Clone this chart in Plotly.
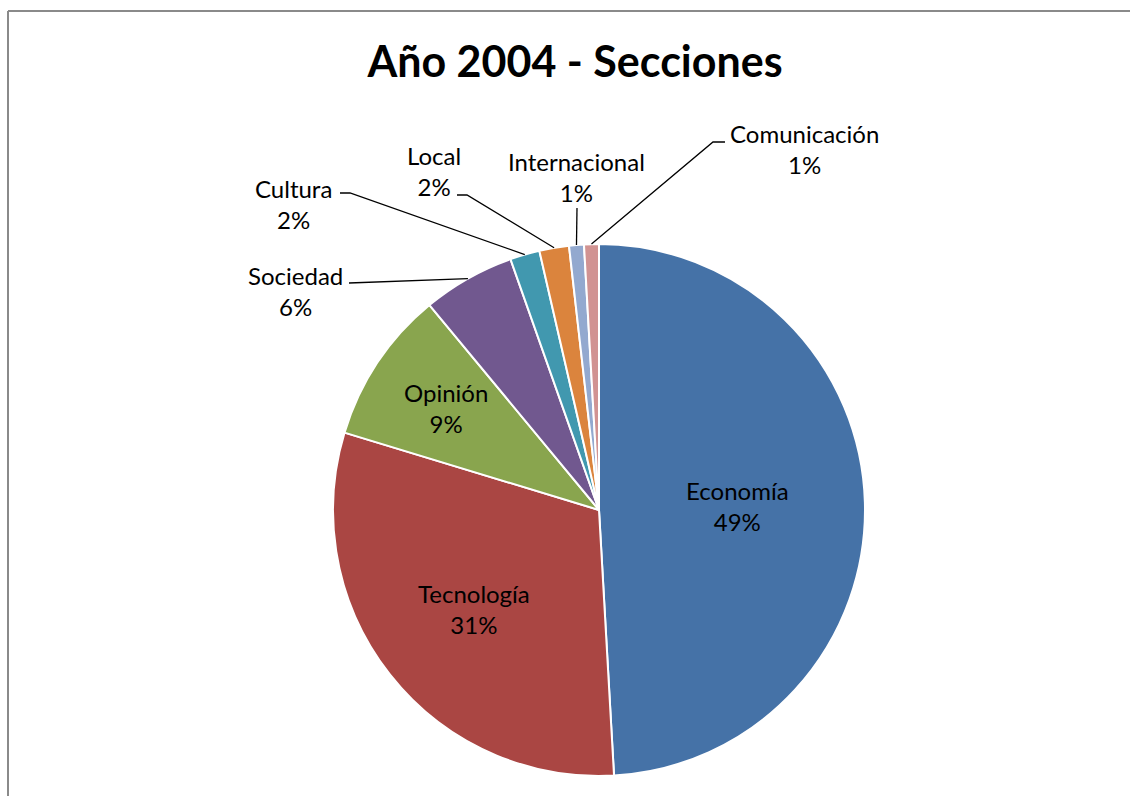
import math
import plotly.graph_objects as go

# Section shares for 2004 (percent of items)
sections = ["Economía", "Tecnología", "Opinión", "Sociedad",
            "Cultura", "Local", "Internacional", "Comunicación"]
shares = [49.1, 30.6, 9.3, 5.6, 1.8, 1.8, 0.9, 0.9]
colors = ["#4572A7", "#AA4643", "#89A54E", "#71588F",
          "#4198AF", "#DB843D", "#93A9CF", "#D19392"]

W, H = 1130, 796
CX, CY, R = 599, 510, 266          # pie centre and radius in pixels
FONT = "Lato, 'Open Sans', sans-serif"
LABEL_SIZE = 24


def px(x):
    return x / W


def py(y):
    return 1 - y / H


total = sum(shares)
pct = [round(v / total * 100) for v in shares]

# mid angle (clockwise from 12 o'clock) for each slice
mid_angles = []
acc = 0.0
for v in shares:
    a0 = acc / total * 360
    acc += v
    a1 = acc / total * 360
    mid_angles.append((a0 + a1) / 2)


def polar(angle_deg, frac):
    a = math.radians(angle_deg)
    return CX + frac * R * math.sin(a), CY - frac * R * math.cos(a)


fig = go.Figure(go.Pie(
    labels=sections,
    values=shares,
    sort=False,
    direction="clockwise",
    rotation=0,
    textinfo="none",
    hoverinfo="label+percent",
    marker=dict(colors=colors, line=dict(color="white", width=2)),
    domain=dict(x=[px(CX - R), px(CX + R)], y=[py(CY + R), py(CY - R)]),
    showlegend=False,
))

annotations = []
shapes = []

# labels drawn on the larger slices, placed along the slice bisector
inside_radius = {"Economía": 0.52, "Tecnología": 0.60, "Opinión": 0.69}
for i, name in enumerate(sections):
    if name in inside_radius:
        x, y = polar(mid_angles[i], inside_radius[name])
        annotations.append(dict(
            x=px(x), y=py(y), xref="paper", yref="paper",
            text=f"{name}<br>{pct[i]}%", showarrow=False,
            font=dict(family=FONT, size=LABEL_SIZE, color="black"),
            xanchor="center", yanchor="middle", align="center"))

# outside labels: text centre and leader-line elbow points (pixels)
outside = {
    "Sociedad": ((295, 291), [(349, 283)]),
    "Cultura": ((293, 204), [(340, 193), (350, 193)]),
    "Local": ((434, 171), [(457, 195), (467, 195)]),
    "Internacional": ((576, 177), [(577, 208)]),
    "Comunicación": ((804, 149), [(725, 142), (713, 142)]),
}
for i, name in enumerate(sections):
    if name not in outside:
        continue
    (tx, ty), elbows = outside[name]
    annotations.append(dict(
        x=px(tx), y=py(ty), xref="paper", yref="paper",
        text=f"{name}<br>{pct[i]}%", showarrow=False,
        font=dict(family=FONT, size=LABEL_SIZE, color="black"),
        xanchor="center", yanchor="middle", align="center"))
    ex, ey = polar(mid_angles[i], 1.0)
    pts = elbows + [(ex, ey)]
    path = "M " + " L ".join(f"{px(x):.5f},{py(y):.5f}" for x, y in pts)
    shapes.append(dict(type="path", path=path, xref="paper", yref="paper",
                       line=dict(color="black", width=1.3)))

# chart-area frame (top and left edges)
frame = dict(color="#8a8a8a", width=2)
shapes.append(dict(type="line", xref="paper", yref="paper",
                   x0=px(8), y0=py(11), x1=1, y1=py(11), line=frame))
shapes.append(dict(type="line", xref="paper", yref="paper",
                   x0=px(8), y0=py(11), x1=px(8), y1=0, line=frame))

fig.update_layout(
    width=W, height=H,
    margin=dict(l=0, r=0, t=0, b=0),
    paper_bgcolor="white",
    plot_bgcolor="white",
    title=dict(text="<b>Año 2004 - Secciones</b>",
               x=px(575), y=py(62), xanchor="center", yanchor="middle",
               font=dict(family=FONT, size=43, color="black")),
    annotations=annotations,
    shapes=shapes,
)

fig.write_html("out.html")
